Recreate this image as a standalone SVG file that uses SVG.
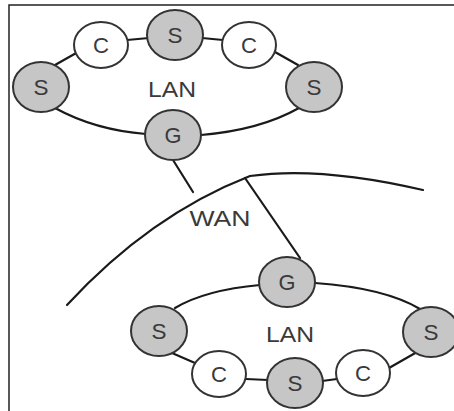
<svg xmlns="http://www.w3.org/2000/svg" width="454" height="411" viewBox="0 0 454 411">
<style>
.frame{fill:none;stroke:#222;stroke-width:1.5}
.ln{fill:none;stroke:#1a1a1a;stroke-width:2.2;stroke-linecap:round}
.s{fill:#c6c6c6;stroke:#333;stroke-width:2}
.c{fill:#fff;stroke:#333;stroke-width:2}
text{font-family:"Liberation Sans",Arial,sans-serif;font-size:22px;fill:#3a3a3a;text-anchor:middle}
</style>
<rect x="0" y="0" width="454" height="411" fill="#fff"/>
<path class="frame" d="M9,411 V5 H454"/>
<g id="connectors">
<path class="ln" d="M55,65 L78,52"/>
<path class="ln" d="M127,40 L149,38"/>
<path class="ln" d="M202,38 L223,40"/>
<path class="ln" d="M275,52 L298,65"/>
<path class="ln" d="M55,108 Q95,130 146,134"/>
<path class="ln" d="M201,135 Q260,130 299,108"/>
<path class="ln" d="M173,160 L193,192"/>
<path class="ln" d="M67,305 Q150,215 250,176 Q320,166 423,190"/>
<path class="ln" d="M245,178 L300,258"/>
<path class="ln" d="M260,285 Q205,290 175,308"/>
<path class="ln" d="M315,283 Q385,288 420,309"/>
<path class="ln" d="M172,353 L195,363"/>
<path class="ln" d="M246,379 L268,380"/>
<path class="ln" d="M322,381 L337,379"/>
<path class="ln" d="M389,368 L417,352"/>
</g>
<g id="top-s-left"><ellipse class="s" cx="41" cy="87" rx="28" ry="25"/><text x="41" y="95" textLength="15" lengthAdjust="spacingAndGlyphs">S</text></g>
<g id="top-c-left"><ellipse class="c" cx="101" cy="45" rx="27" ry="23"/><text x="101" y="53" textLength="16" lengthAdjust="spacingAndGlyphs">C</text></g>
<g id="top-s-mid"><ellipse class="s" cx="175" cy="35" rx="28" ry="25"/><text x="175" y="43" textLength="15" lengthAdjust="spacingAndGlyphs">S</text></g>
<g id="top-c-right"><ellipse class="c" cx="249" cy="45" rx="27" ry="23"/><text x="249" y="53" textLength="16" lengthAdjust="spacingAndGlyphs">C</text></g>
<g id="top-s-right"><ellipse class="s" cx="314" cy="87" rx="28" ry="25"/><text x="314" y="95" textLength="15" lengthAdjust="spacingAndGlyphs">S</text></g>
<g id="top-g"><ellipse class="s" cx="173" cy="135" rx="28" ry="25"/><text x="173" y="143" textLength="17" lengthAdjust="spacingAndGlyphs">G</text></g>
<g id="top-lan"><text x="172" y="97" textLength="48" lengthAdjust="spacingAndGlyphs">LAN</text></g>
<g id="wan"><text x="220" y="226" textLength="61" lengthAdjust="spacingAndGlyphs">WAN</text></g>
<g id="bot-g"><ellipse class="s" cx="287" cy="282" rx="28" ry="25"/><text x="287" y="290" textLength="17" lengthAdjust="spacingAndGlyphs">G</text></g>
<g id="bot-s-left"><ellipse class="s" cx="159" cy="331" rx="28" ry="25"/><text x="159" y="339" textLength="15" lengthAdjust="spacingAndGlyphs">S</text></g>
<g id="bot-s-right"><ellipse class="s" cx="431" cy="332" rx="28" ry="25"/><text x="431" y="340" textLength="15" lengthAdjust="spacingAndGlyphs">S</text></g>
<g id="bot-c-left"><ellipse class="c" cx="219" cy="374" rx="27" ry="23"/><text x="219" y="382" textLength="16" lengthAdjust="spacingAndGlyphs">C</text></g>
<g id="bot-s-mid"><ellipse class="s" cx="295" cy="383" rx="28" ry="25"/><text x="295" y="391" textLength="15" lengthAdjust="spacingAndGlyphs">S</text></g>
<g id="bot-c-right"><ellipse class="c" cx="363" cy="373" rx="27" ry="23"/><text x="363" y="381" textLength="16" lengthAdjust="spacingAndGlyphs">C</text></g>
<g id="bot-lan"><text x="290" y="342" textLength="48" lengthAdjust="spacingAndGlyphs">LAN</text></g>
</svg>
